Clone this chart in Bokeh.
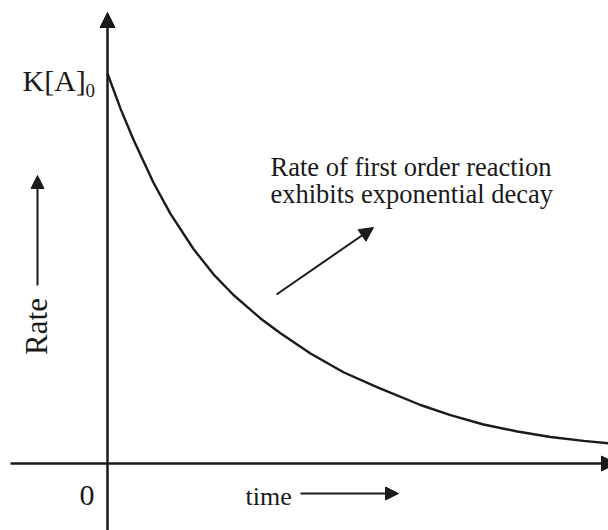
from math import pi
from bokeh.plotting import figure
from bokeh.models import Range1d, Arrow, NormalHead, Label
from bokeh.embed import file_html
from bokeh.resources import INLINE

# Data (time in arbitrary units, rate as fraction of K[A]0)
time = [0.0, 0.26, 0.52, 0.92, 1.26, 1.72, 2.12, 2.52, 3.06, 3.46, 4.06, 4.72, 5.4,
        6.26, 6.86, 7.52, 8.2, 8.86, 9.52, 10.02]
rate = [1.0, 0.91, 0.83, 0.72, 0.64, 0.55, 0.485, 0.432, 0.372, 0.334, 0.282, 0.234, 0.195,
        0.150, 0.124, 0.100, 0.082, 0.068, 0.058, 0.052]

labels = {
    "k0": "K[A]",
    "k0_sub": "0",
    "origin": "0",
    "xlabel": "time",
    "ylabel": "Rate",
    "note1": "Rate of first order reaction",
    "note2": "exhibits exponential decay",
}

FONT = "Liberation Serif"
INK = "#1a1a1a"

# pixel helpers (image coordinates -> data), layout only
def X(px):
    return (px - 107) / 50.0

def Y(py):
    return (463 - py) / 390.0

p = figure(width=608, height=530, output_backend="svg", toolbar_location=None,
           x_range=Range1d(X(0), X(608)), y_range=Range1d(Y(530), Y(0)),
           min_border=0, outline_line_color=None)
p.xaxis.visible = False
p.yaxis.visible = False
p.xgrid.visible = False
p.ygrid.visible = False
p.background_fill_color = "white"
p.border_fill_color = "white"

def head(sz):
    return NormalHead(size=sz, fill_color=INK, line_color=INK, line_width=1)

# axes
p.add_layout(Arrow(end=head(15), x_start=0, y_start=Y(535), x_end=0, y_end=Y(12),
                   line_width=2.5, line_color=INK))
p.add_layout(Arrow(end=head(15), x_start=X(10), y_start=0, x_end=X(616), y_end=0,
                   line_width=2.5, line_color=INK))

# curve
p.line(time, rate, line_width=2.4, line_color=INK, line_join="round")

# direction arrows
p.add_layout(Arrow(end=head(13), x_start=X(37), y_start=Y(285), x_end=X(37), y_end=Y(175),
                   line_width=2, line_color=INK))
p.add_layout(Arrow(end=head(13), x_start=X(300), y_start=Y(493), x_end=X(398), y_end=Y(493),
                   line_width=2, line_color=INK))
p.add_layout(Arrow(end=head(14), x_start=X(276), y_start=Y(294), x_end=X(373), y_end=Y(227),
                   line_width=2, line_color=INK))

def lab(txt, px, py, size, align="left", baseline="alphabetic", angle=0):
    p.add_layout(Label(x=X(px), y=Y(py), text=txt, text_font=FONT, text_font_size=f"{size}px",
                       text_color=INK, text_align=align, text_baseline=baseline, angle=angle))

lab(labels["k0"], 22, 80, 30)
lab(labels["k0_sub"], 85, 90, 19)
lab(labels["origin"], 94, 495, 30, align="right")
lab(labels["xlabel"], 245, 496, 26)
lab(labels["ylabel"], 36, 326, 31, align="center", baseline="middle", angle=pi / 2)
lab(labels["note1"], 270, 166, 26.5)
lab(labels["note2"], 270, 193, 26.5)

open("out.html", "w").write(file_html(p, INLINE))
